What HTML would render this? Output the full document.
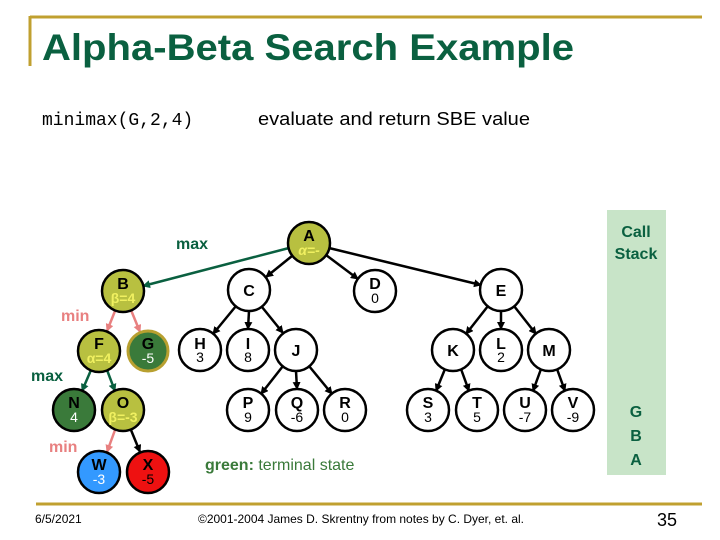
<!DOCTYPE html>
<html><head><meta charset="utf-8"><style>
body{margin:0;background:#fff}
svg{display:block}
text{font-family:"Liberation Sans",sans-serif}
</style></head><body>
<svg width="720" height="540" viewBox="0 0 720 540" xmlns="http://www.w3.org/2000/svg">
<defs>
<marker id="mk" markerWidth="8" markerHeight="8" refX="7" refY="4" orient="auto" markerUnits="userSpaceOnUse"><path d="M0,0 L8,4 L0,8 z" fill="#000"/></marker>
<marker id="mg" markerWidth="8" markerHeight="8" refX="7" refY="4" orient="auto" markerUnits="userSpaceOnUse"><path d="M0,0 L8,4 L0,8 z" fill="#0a6040"/></marker>
<marker id="mp" markerWidth="8" markerHeight="8" refX="7" refY="4" orient="auto" markerUnits="userSpaceOnUse"><path d="M0,0 L8,4 L0,8 z" fill="#e88080"/></marker>
</defs>
<!-- frame lines -->
<line x1="30" y1="17" x2="702" y2="17" stroke="#c0a030" stroke-width="3"/>
<line x1="30" y1="16" x2="30" y2="66" stroke="#c0a030" stroke-width="3"/>
<line x1="36" y1="504" x2="702" y2="504" stroke="#c0a030" stroke-width="3"/>
<text x="42" y="60" font-size="37" font-weight="bold" fill="#0a6040" textLength="532" lengthAdjust="spacingAndGlyphs">Alpha-Beta Search Example</text>
<text x="42" y="125" font-size="18" font-family="Liberation Mono,monospace" style="font-family:'Liberation Mono',monospace" fill="#000">minimax(G,2,4)</text>
<text x="258" y="125" font-size="18" fill="#000" textLength="272" lengthAdjust="spacingAndGlyphs">evaluate and return SBE value</text>
<!-- call stack -->
<rect x="607" y="210" width="59" height="265" fill="#c8e4c8"/>
<text x="636" y="237" font-size="16" font-weight="bold" fill="#0a6040" text-anchor="middle">Call</text>
<text x="636" y="259" font-size="16" font-weight="bold" fill="#0a6040" text-anchor="middle">Stack</text>
<text x="636" y="417" font-size="16" font-weight="bold" fill="#0a6040" text-anchor="middle">G</text>
<text x="636" y="441" font-size="16" font-weight="bold" fill="#0a6040" text-anchor="middle">B</text>
<text x="636" y="465" font-size="16" font-weight="bold" fill="#0a6040" text-anchor="middle">A</text>
<!-- labels -->
<text x="176" y="249" font-size="16" font-weight="bold" fill="#0a6040">max</text>
<text x="61" y="321" font-size="16" font-weight="bold" fill="#e88080">min</text>
<text x="31" y="381" font-size="16" font-weight="bold" fill="#0a6040">max</text>
<text x="49" y="452" font-size="16" font-weight="bold" fill="#e88080">min</text>
<text x="205" y="470" font-size="16" fill="#3a7a3a"><tspan font-weight="bold">green:</tspan> terminal state</text>
<!-- edges -->
<g stroke-width="2.5" fill="none">
<line x1="289" y1="248" x2="143" y2="286" stroke="#0a6040" marker-end="url(#mg)"/>
<line x1="292" y1="256" x2="266" y2="277" stroke="#000" marker-end="url(#mk)"/>
<line x1="326" y1="255" x2="358" y2="279" stroke="#000" marker-end="url(#mk)"/>
<line x1="329" y1="248" x2="481" y2="285" stroke="#000" marker-end="url(#mk)"/>
<line x1="115" y1="311" x2="107" y2="331" stroke="#e88080" marker-end="url(#mp)"/>
<line x1="131" y1="310" x2="140" y2="332" stroke="#e88080" marker-end="url(#mp)"/>
<line x1="236" y1="306" x2="213" y2="334" stroke="#000" marker-end="url(#mk)"/>
<line x1="249" y1="311" x2="248" y2="329" stroke="#000" marker-end="url(#mk)"/>
<line x1="262" y1="307" x2="283" y2="333" stroke="#000" marker-end="url(#mk)"/>
<line x1="488" y1="306" x2="466" y2="334" stroke="#000" marker-end="url(#mk)"/>
<line x1="501" y1="311" x2="501" y2="329" stroke="#000" marker-end="url(#mk)"/>
<line x1="514" y1="306" x2="536" y2="334" stroke="#000" marker-end="url(#mk)"/>
<line x1="91" y1="370" x2="82" y2="391" stroke="#0a6040" marker-end="url(#mg)"/>
<line x1="107" y1="370" x2="115" y2="391" stroke="#0a6040" marker-end="url(#mg)"/>
<line x1="283" y1="366" x2="261" y2="394" stroke="#000" marker-end="url(#mk)"/>
<line x1="296" y1="371" x2="297" y2="389" stroke="#000" marker-end="url(#mk)"/>
<line x1="309" y1="366" x2="332" y2="394" stroke="#000" marker-end="url(#mk)"/>
<line x1="445" y1="369" x2="436" y2="391" stroke="#000" marker-end="url(#mk)"/>
<line x1="461" y1="369" x2="469" y2="391" stroke="#000" marker-end="url(#mk)"/>
<line x1="541" y1="369" x2="533" y2="391" stroke="#000" marker-end="url(#mk)"/>
<line x1="557" y1="369" x2="565" y2="391" stroke="#000" marker-end="url(#mk)"/>
<line x1="115" y1="430" x2="107" y2="452" stroke="#e88080" marker-end="url(#mp)"/>
<line x1="131" y1="430" x2="140" y2="452" stroke="#000" marker-end="url(#mk)"/>
</g>
<!-- nodes -->
<g stroke="#000" stroke-width="2.5">
<circle cx="309" cy="243" r="21" fill="#b8c040"/>
<circle cx="123" cy="291" r="21" fill="#b8c040"/>
<circle cx="249" cy="290" r="21" fill="#fff"/>
<circle cx="375" cy="291" r="21" fill="#fff"/>
<circle cx="501" cy="290" r="21" fill="#fff"/>
<circle cx="99" cy="351" r="21" fill="#b8c040"/>
<circle cx="148" cy="351" r="20" fill="#3a7a3a" stroke="#b8a030" stroke-width="3"/>
<circle cx="200" cy="350" r="21" fill="#fff"/>
<circle cx="248" cy="350" r="21" fill="#fff"/>
<circle cx="296" cy="350" r="21" fill="#fff"/>
<circle cx="453" cy="350" r="21" fill="#fff"/>
<circle cx="501" cy="350" r="21" fill="#fff"/>
<circle cx="549" cy="350" r="21" fill="#fff"/>
<circle cx="74" cy="410" r="21" fill="#3a7a3a"/>
<circle cx="123" cy="410" r="21" fill="#b8c040"/>
<circle cx="248" cy="410" r="21" fill="#fff"/>
<circle cx="297" cy="410" r="21" fill="#fff"/>
<circle cx="345" cy="410" r="21" fill="#fff"/>
<circle cx="428" cy="410" r="21" fill="#fff"/>
<circle cx="477" cy="410" r="21" fill="#fff"/>
<circle cx="525" cy="410" r="21" fill="#fff"/>
<circle cx="573" cy="410" r="21" fill="#fff"/>
<circle cx="99" cy="472" r="21" fill="#3399ff"/>
<circle cx="148" cy="472" r="21" fill="#ee1111"/>
</g>
<g font-size="16" font-weight="bold" text-anchor="middle" fill="#000">
<text x="309" y="241">A</text><text x="123" y="289">B</text><text x="249" y="296">C</text>
<text x="375" y="289">D</text><text x="501" y="296">E</text><text x="99" y="349">F</text>
<text x="148" y="349">G</text><text x="200" y="349">H</text><text x="248" y="349">I</text>
<text x="296" y="356">J</text><text x="453" y="356">K</text><text x="501" y="349">L</text>
<text x="549" y="356">M</text><text x="74" y="408">N</text><text x="123" y="408">O</text>
<text x="248" y="408">P</text><text x="297" y="408">Q</text><text x="345" y="408">R</text>
<text x="428" y="408">S</text><text x="477" y="408">T</text><text x="525" y="408">U</text>
<text x="573" y="408">V</text><text x="99" y="470">W</text><text x="148" y="470">X</text>
</g>
<g font-size="14" text-anchor="middle">
<text x="309" y="255" fill="#f0f060" font-weight="bold" font-style="italic">α=-</text>
<text x="123" y="303" fill="#f0f060" font-weight="bold">β=4</text>
<text x="99" y="363" fill="#f0f060" font-weight="bold">α=4</text>
<text x="123" y="422" fill="#f0f060" font-weight="bold">β=-3</text>
<text x="375" y="303" fill="#000">0</text>
<text x="148" y="363" fill="#fff">-5</text>
<text x="200" y="362" fill="#000">3</text>
<text x="248" y="362" fill="#000">8</text>
<text x="501" y="362" fill="#000">2</text>
<text x="74" y="422" fill="#fff">4</text>
<text x="248" y="422" fill="#000">9</text>
<text x="297" y="422" fill="#000">-6</text>
<text x="345" y="422" fill="#000">0</text>
<text x="428" y="422" fill="#000">3</text>
<text x="477" y="422" fill="#000">5</text>
<text x="525" y="422" fill="#000">-7</text>
<text x="573" y="422" fill="#000">-9</text>
<text x="99" y="484" fill="#fff">-3</text>
<text x="148" y="484" fill="#000">-5</text>
</g>
<!-- footer -->
<text x="35" y="523" font-size="12" fill="#000">6/5/2021</text>
<text x="198" y="523" font-size="12" fill="#000" textLength="326" lengthAdjust="spacingAndGlyphs">©2001-2004 James D. Skrentny from notes by C. Dyer, et. al.</text>
<text x="667" y="526" font-size="18" fill="#000" text-anchor="middle">35</text>
</svg>
</body></html>
